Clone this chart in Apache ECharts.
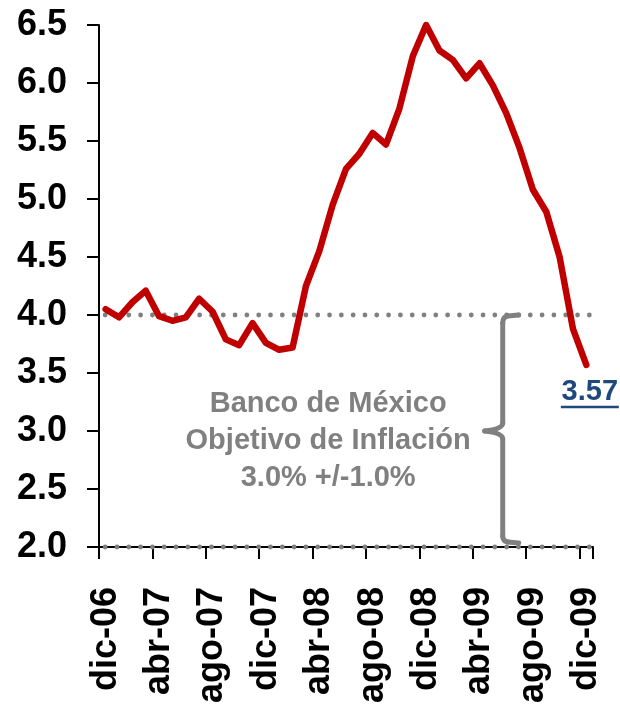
<!DOCTYPE html>
<html>
<head>
<meta charset="utf-8">
<script src="https://cdn.jsdelivr.net/npm/echarts@6/dist/echarts.min.js"></script>
<style>
html,body{margin:0;padding:0;background:#fff;}
#chart{width:620px;height:704px;}
</style>
</head>
<body>
<div id="chart"></div>
<script>
// Categories (monthly, dic-06 .. dic-09)
const categories = [
  'dic-06','ene-07','feb-07','mar-07','abr-07','may-07','jun-07','jul-07','ago-07','sep-07','oct-07','nov-07',
  'dic-07','ene-08','feb-08','mar-08','abr-08','may-08','jun-08','jul-08','ago-08','sep-08','oct-08','nov-08',
  'dic-08','ene-09','feb-09','mar-09','abr-09','may-09','jun-09','jul-09','ago-09','sep-09','oct-09','nov-09',
  'dic-09'
];
// Inflation values (%)
const inflation = [
  4.05, 3.98, 4.11, 4.21, 3.99, 3.95, 3.98, 4.14, 4.03, 3.79, 3.74, 3.93,
  3.76, 3.70, 3.72, 4.25, 4.55, 4.95, 5.26, 5.39, 5.57, 5.47, 5.78, 6.23,
  6.50, 6.28, 6.20, 6.04, 6.17, 5.98, 5.74, 5.44, 5.08, 4.89, 4.50, 3.88,
  3.57
];
// Target band
const targetUpper = 4.0;
const targetLower = 2.0;
const targetMid = 3.0;
// Y axis ticks
const yMin = 2.0, yMax = 6.5, yStep = 0.5;
const annotationLines = ['Banco de México', 'Objetivo de Inflación', '3.0% +/-1.0%'];

const FONT = 'Liberation Sans, Arial, sans-serif';
const chart = echarts.init(document.getElementById('chart'), null, {renderer: 'canvas'});
const lastIdx = inflation.length - 1;

chart.setOption({
  animation: false,
  backgroundColor: '#ffffff',
  grid: {left: 99, right: 27, top: 25, bottom: 157, containLabel: false, outerBoundsMode: 'none'},
  xAxis: {
    type: 'category',
    data: categories,
    boundaryGap: true,
    axisLine: {show: true, lineStyle: {color: '#000', width: 2}},
    axisTick: {show: true, interval: 3, length: 12, lineStyle: {color: '#000', width: 2}},
    axisLabel: {
      interval: 3, rotate: 90, margin: 40,
      fontFamily: FONT, fontWeight: 'bold', fontSize: 36, color: '#000'
    },
    splitLine: {show: false}
  },
  yAxis: {
    type: 'value',
    min: yMin, max: yMax, interval: yStep,
    axisLine: {show: true, lineStyle: {color: '#000', width: 2}},
    axisTick: {show: true, length: 12, lineStyle: {color: '#000', width: 2}},
    axisLabel: {
      margin: 32, formatter: (v) => v.toFixed(1),
      fontFamily: FONT, fontWeight: 'bold', fontSize: 36, color: '#000'
    },
    splitLine: {show: false}
  },
  series: [
    {
      type: 'line',
      data: inflation,
      z: 3,
      symbol: 'none',
      showSymbol: false,
      clip: false,
      lineStyle: {color: '#C00000', width: 6.5, join: 'round', cap: 'round'}
    }
  ]
});

function drawAnnotations() {
  const P = (x, y) => chart.convertToPixel({gridIndex: 0}, [x, y]);
  const yTop = P(0, targetUpper)[1];
  const yBot = P(0, targetLower)[1];
  const yMid = P(0, targetMid)[1];
  const gx0 = P(0, targetMid)[0] - 0.5;       // first dot
  const gx1 = P(lastIdx, targetMid)[0] + 3;   // last dot
  const xv = P(30, targetMid)[0] - 3.5;
  const b = yBot - 5;
  const last = P(lastIdx, inflation[lastIdx]);
  const textX = P(17, targetMid)[0] - 4.5;
  const braceStyle = {stroke: '#808080', lineWidth: 5, fill: null, lineCap: 'round', lineJoin: 'round'};
  const g = [];
  // target band dotted lines (round dots)
  const nDots = 42;
  [yTop, yBot].forEach((yy) => {
    for (let i = 0; i < nDots; i++) {
      const cx = gx0 + (gx1 - gx0) * i / (nDots - 1);
      g.push({type: 'circle', z: 1, shape: {cx: cx, cy: yy, r: 2.4}, style: {fill: '#808080'}});
    }
  });
  // brace
  g.push(
    {type: 'line', z: 10, shape: {x1: xv + 16, y1: yTop, x2: xv + 5, y2: yTop + 1}, style: braceStyle},
    {type: 'bezierCurve', z: 10, shape: {x1: xv + 5, y1: yTop + 1, cpx1: xv, cpy1: yTop + 2, x2: xv, y2: yTop + 8}, style: braceStyle},
    {type: 'line', z: 10, shape: {x1: xv, y1: yTop + 8, x2: xv, y2: yMid - 8}, style: braceStyle},
    {type: 'bezierCurve', z: 10, shape: {x1: xv, y1: yMid - 8, cpx1: xv, cpy1: yMid - 2, x2: xv - 18, y2: yMid}, style: braceStyle},
    {type: 'bezierCurve', z: 10, shape: {x1: xv - 18, y1: yMid, cpx1: xv, cpy1: yMid + 2, x2: xv, y2: yMid + 8}, style: braceStyle},
    {type: 'line', z: 10, shape: {x1: xv, y1: yMid + 8, x2: xv, y2: b - 6}, style: braceStyle},
    {type: 'bezierCurve', z: 10, shape: {x1: xv, y1: b - 6, cpx1: xv, cpy1: b - 1, x2: xv + 5, y2: b}, style: braceStyle},
    {type: 'line', z: 10, shape: {x1: xv + 5, y1: b, x2: xv + 16, y2: b + 1}, style: braceStyle}
  );
  // annotation text
  g.push({
    type: 'text', z: 10,
    x: textX, y: yMid + 10,
    style: {
      text: annotationLines.join('\n'),
      font: 'bold 29px ' + FONT,
      fill: '#808080',
      align: 'center', verticalAlign: 'middle',
      lineHeight: 37
    }
  });
  // last value label + underline
  g.push({
    type: 'text', z: 10,
    x: last[0] + 3.5, y: last[1] + 27,
    style: {
      text: inflation[lastIdx].toFixed(2),
      font: 'bold 29px ' + FONT,
      fill: '#1F497D',
      align: 'center', verticalAlign: 'middle'
    }
  }, {
    type: 'line', z: 10,
    shape: {x1: last[0] + 3.5 - 29, y1: last[1] + 42, x2: last[0] + 3.5 + 29, y2: last[1] + 42},
    style: {stroke: '#1F497D', lineWidth: 2.5}
  });
  chart.setOption({graphic: g});
}
drawAnnotations();
</script>
</body>
</html>
